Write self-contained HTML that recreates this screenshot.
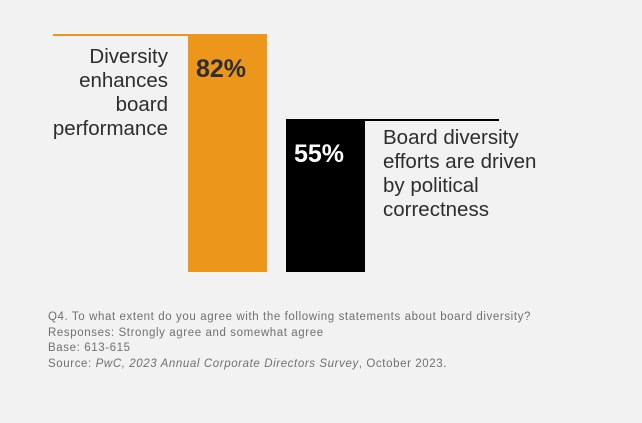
<!DOCTYPE html>
<html><head><meta charset="utf-8"><style>
html,body{margin:0;padding:0;background:#f2f2f2;}
body{width:642px;height:423px;position:relative;overflow:hidden;font-family:"Liberation Sans",Arial,sans-serif;}
.lbl{position:absolute;font-size:20.5px;line-height:24px;color:#2d2d2d;}
.foot{position:absolute;left:48px;top:310px;font-size:11.5px;letter-spacing:0.6px;line-height:15.5px;color:#707070;white-space:nowrap;}
</style></head><body>
<svg id="chart" width="642" height="423" style="position:absolute;left:0;top:0"></svg>
<div class="lbl" style="right:474px;top:45px;text-align:right">Diversity<br>enhances<br>board<br>performance</div>
<div class="lbl" style="left:383px;top:126px">Board diversity<br>efforts are driven<br>by political<br>correctness</div>
<div class="foot">Q4. To what extent do you agree with the following statements about board diversity?<br>Responses: Strongly agree and somewhat agree<br>Base: 613-615<br>Source: <i>PwC, 2023 Annual Corporate Directors Survey</i>, October 2023.</div>
<script>
const categories=["Diversity enhances board performance","Board diversity efforts are driven by political correctness"];
const values=[82,55];
const valueLabels=["82%","55%"];
const colors=["#ec961c","#000000"];
const textColors=["#2d2d2d","#ffffff"];
const svg=document.getElementById('chart');
const NS='http://www.w3.org/2000/svg';
const base=272, k=3.148, d0=6.4;
function y(v){return base-(v-d0)*k;}
const barX=[188,286], barW=79;
function lineSeg(i){
  return i===0?[53,barX[0]]:[barX[1]+barW,499];
}
values.forEach((v,i)=>{
  const r=document.createElementNS(NS,'rect');
  r.setAttribute('x',barX[i]);r.setAttribute('y',y(v));
  r.setAttribute('width',barW);r.setAttribute('height',base-y(v));
  r.setAttribute('fill',colors[i]);
  
  
  svg.appendChild(r);
  const s=lineSeg(i);
  const l=document.createElementNS(NS,'line');
  l.setAttribute('x1',s[0]);l.setAttribute('x2',s[1]);
  l.setAttribute('y1',y(v)+1);l.setAttribute('y2',y(v)+1);
  l.setAttribute('stroke',colors[i]);l.setAttribute('stroke-width',2);
  
  
  svg.appendChild(l);
  const t=document.createElementNS(NS,'text');
  t.setAttribute('x',barX[i]+8);t.setAttribute('y',y(v)+43);
  t.setAttribute('font-size','25');t.setAttribute('font-weight','bold');
  t.setAttribute('fill',textColors[i]);
  t.setAttribute('font-family','Liberation Sans, Arial, sans-serif');
  t.textContent=valueLabels[i];
  
  
  svg.appendChild(t);
});
</script>
</body></html>
